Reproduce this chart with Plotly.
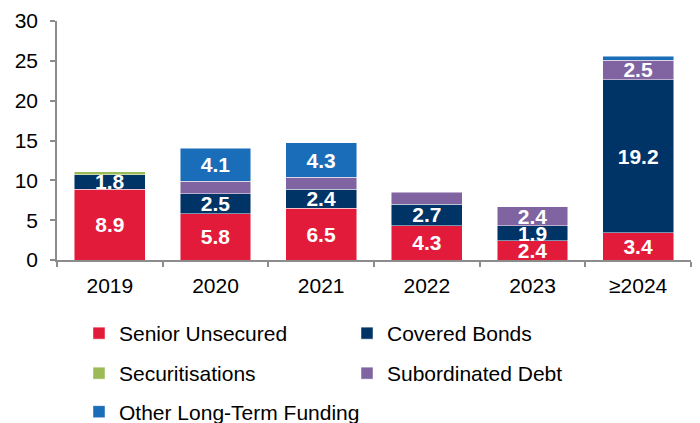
import plotly.graph_objects as go

categories = ["2019", "2020", "2021", "2022", "2023", "≥2024"]
senior_unsecured = [8.9, 5.8, 6.5, 4.3, 2.4, 3.4]
covered_bonds = [1.8, 2.5, 2.4, 2.7, 1.9, 19.2]
securitisations = [0.4, None, None, None, None, None]
subordinated_debt = [None, 1.6, 1.5, 1.5, 2.4, 2.5]
other_long_term = [None, 4.1, 4.3, None, None, 0.5]
y_ticks = [0, 5, 10, 15, 20, 25, 30]

series = [
    ("Senior Unsecured", senior_unsecured, "#E31B3A", "legend"),
    ("Covered Bonds", covered_bonds, "#003366", "legend"),
    ("Securitisations", securitisations, "#9BBB59", "legend2"),
    ("Subordinated Debt", subordinated_debt, "#8064A2", "legend2"),
    ("Other Long-Term Funding", other_long_term, "#1A6DB8", "legend3"),
]

FONT = "Liberation Sans, Arial, sans-serif"
FS = 21
W, H = 692, 415  # page body adds an 8px offset

fig = go.Figure()
for name, vals, color, lg in series:
    labels = [f"{v:.1f}" if (v is not None and v >= 1.8) else "" for v in vals]
    fig.add_trace(go.Bar(
        name=name, x=categories, y=vals, marker=dict(color=color, line=dict(color="rgba(255,255,255,0.6)", width=0.8)),
        text=labels, textposition="inside", insidetextanchor="middle", textangle=0,
        textfont=dict(family=FONT, size=FS, color="white", weight="bold"),
        hoverinfo="skip", legend=lg,
    ))

legend_common = dict(orientation="h", xref="container", yref="container", xanchor="left", yanchor="middle",
                     traceorder="normal",
                     font=dict(family=FONT, size=FS, color="#000"),
                     bgcolor="rgba(0,0,0,0)", borderwidth=0)

LX = 71
fig.update_layout(
    width=W, height=H,
    margin=dict(l=49, r=9, t=13, b=163),
    paper_bgcolor="white", plot_bgcolor="white",
    barmode="stack", bargap=0.33,
    font=dict(family=FONT, size=FS, color="#000"),
    uniformtext=dict(minsize=FS, mode="show"),
    legend=dict(x=LX/W, y=1 - 325.5/H, entrywidth=223, entrywidthmode="pixels", **legend_common),
    legend2=dict(x=LX/W, y=1 - 365.5/H, entrywidth=223, entrywidthmode="pixels", **legend_common),
    legend3=dict(x=LX/W, y=1 - 404/H, **legend_common),
    xaxis=dict(showline=True, linecolor="#8C8C8C", linewidth=1.5, ticks="outside", tickson="boundaries",
               ticklen=5, tickcolor="#8C8C8C", tickwidth=1.5, showgrid=False, range=[-0.5, 5.5],
               automargin=False, ticklabelstandoff=6,
               tickfont=dict(family=FONT, size=FS, color="#000")),
    yaxis=dict(showline=True, linecolor="#8C8C8C", linewidth=1.5, ticks="outside", ticklen=5,
               tickcolor="#8C8C8C", tickwidth=1.5, showgrid=False, zeroline=False, range=[0, 30],
               automargin=False, ticklabelstandoff=8,
               tickvals=y_ticks, tickfont=dict(family=FONT, size=FS, color="#000")),
)

fig.write_html("out.html")
